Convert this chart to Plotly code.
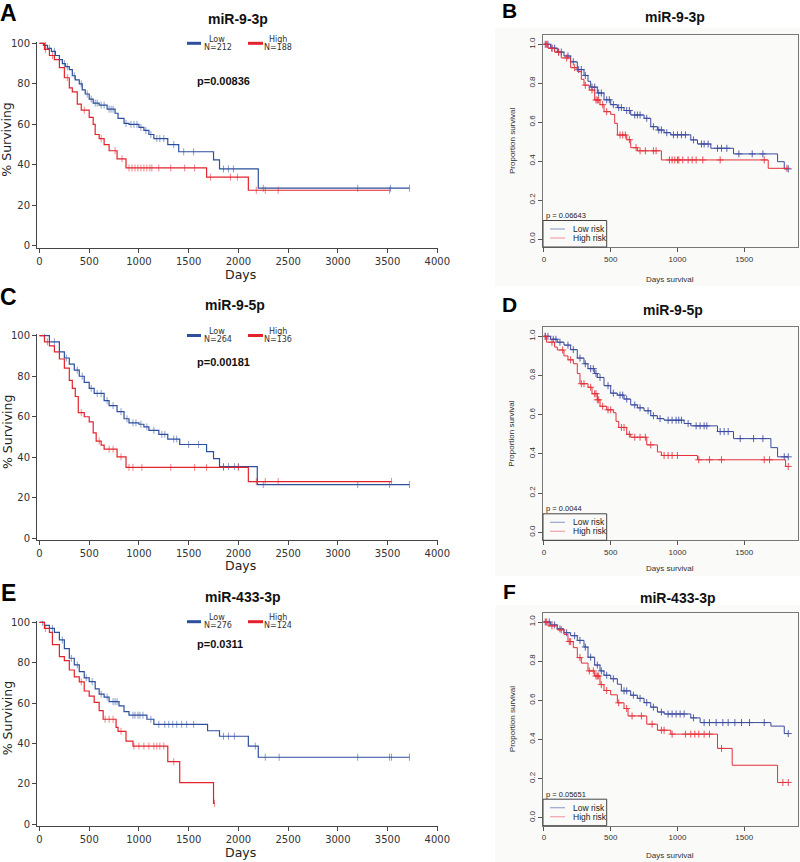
import plotly.graph_objects as go

W, H = 800, 862

# ---------------- panel A : miR-9-3p, % surviving vs days
A_LOW_T = [0, 40, 80, 120, 160, 200, 230, 260, 300, 330, 360, 400, 430, 460, 500, 540, 600, 680, 760, 790, 850, 900, 1000, 1050, 1100, 1150, 1290, 1400, 1750, 1810, 2200]
A_LOW_S = [100, 99, 97.5, 96, 94, 92, 90, 88.5, 87, 84, 82, 80, 77, 75, 72.5, 70.5, 69.5, 67.5, 65.5, 63, 60.5, 60, 58.5, 57, 55, 53, 50, 46.5, 42.5, 38, 28.5]
A_LOW_END = 3720
A_LOW_CENS = [60, 100, 150, 250, 280, 350, 420, 480, 520, 560, 580, 620, 650, 700, 720, 740, 870, 920, 950, 980, 1020, 1070, 1120, 1180, 1210, 1250, 1350, 1450, 1550, 1850, 1900, 1950, 2250, 3200, 3530, 3720]
A_HIGH_T = [0, 50, 100, 150, 200, 250, 300, 330, 380, 420, 500, 540, 560, 600, 650, 700, 780, 870, 1680, 2100]
A_HIGH_S = [100, 97, 94, 92, 88, 83, 78, 76, 70, 67, 63.5, 60, 55, 53, 50, 47, 43, 38.5, 34, 27.5]
A_HIGH_END = 3520
A_HIGH_CENS = [60, 130, 280, 450, 620, 760, 830, 900, 930, 960, 990, 1020, 1050, 1080, 1110, 1130, 1200, 1320, 1460, 1560, 1720, 1920, 1990, 2180, 2270, 2400, 3520]

# ---------------- panel C : miR-9-5p
C_LOW_T = [0, 100, 200, 250, 300, 350, 400, 450, 500, 550, 650, 700, 780, 850, 900, 1000, 1050, 1100, 1200, 1290, 1410, 1680, 1750, 1810, 2190]
C_LOW_S = [100, 97, 92, 89, 86, 83, 80, 77, 74, 71.5, 68, 65.5, 62.5, 59, 57, 56.3, 55, 53.3, 51.3, 49, 46.3, 42.8, 39.3, 35.4, 26.5]
C_LOW_END = 3720
C_LOW_CENS = [50, 150, 270, 380, 430, 520, 580, 620, 680, 740, 820, 880, 940, 970, 1020, 1080, 1150, 1230, 1260, 1350, 1380, 1500, 1600, 1850, 1900, 1960, 2000, 2250, 3200, 3520, 3720]
C_HIGH_T = [0, 50, 100, 150, 200, 250, 300, 330, 360, 390, 450, 500, 540, 570, 620, 650, 780, 870, 2100]
C_HIGH_S = [100, 97, 95, 92, 88.5, 84, 78, 74, 70, 62, 60, 57.5, 52, 48, 46, 44, 40.2, 35, 28]
C_HIGH_END = 3540
C_HIGH_CENS = [80, 420, 600, 700, 740, 820, 900, 940, 1030, 1320, 1560, 1680, 1850, 2000, 2180, 2270, 2400, 3540]

# ---------------- panel E : miR-433-3p
E_LOW_T = [0, 50, 100, 150, 200, 250, 300, 350, 400, 450, 500, 560, 600, 650, 700, 800, 850, 900, 1080, 1150, 1690, 1810, 2100, 2200]
E_LOW_S = [100, 98.5, 97, 95, 91.3, 87, 82.2, 78.9, 75.6, 72.5, 70.6, 67, 64.4, 63, 60.7, 58.6, 55.8, 54, 52, 49.5, 46.3, 43.6, 38.7, 33.2]
E_LOW_END = 3720
E_LOW_CENS = [30, 130, 230, 320, 380, 470, 530, 620, 680, 740, 760, 780, 940, 960, 990, 1010, 1040, 1120, 1200, 1260, 1300, 1340, 1380, 1430, 1480, 1550, 1850, 1900, 1960, 2170, 2270, 2410, 3200, 3520, 3540, 3720]
E_HIGH_T = [0, 50, 100, 130, 200, 250, 300, 350, 400, 450, 500, 550, 600, 640, 770, 790, 870, 940, 1290, 1410, 1750]
E_HIGH_S = [100, 97, 95, 89, 83, 81, 76.4, 73, 70.5, 66, 63.5, 60.4, 56.3, 52, 48, 46, 41.2, 38.7, 31, 20.6, 10.4]
E_HIGH_END = 1760
E_HIGH_CENS = [60, 420, 660, 700, 740, 820, 950, 1000, 1050, 1100, 1150, 1180, 1210, 1250, 1350, 1760]

# ---------------- panel B : miR-9-3p, proportion survival vs days survival
B_LOW_T = [0, 50, 100, 150, 200, 250, 300, 330, 350, 400, 450, 500, 550, 600, 650, 750, 800, 850, 900, 950, 1100, 1150, 1250, 1420, 1750, 1800]
B_LOW_S = [1.0, 0.98, 0.96, 0.94, 0.91, 0.87, 0.84, 0.81, 0.78, 0.75, 0.715, 0.69, 0.675, 0.66, 0.637, 0.62, 0.577, 0.56, 0.546, 0.535, 0.509, 0.488, 0.466, 0.437, 0.397, 0.36]
B_LOW_END = 1830
B_LOW_CENS = [10, 30, 60, 80, 110, 130, 180, 220, 260, 280, 310, 360, 380, 410, 430, 470, 490, 520, 560, 580, 620, 640, 680, 700, 720, 770, 820, 860, 880, 920, 970, 1000, 1030, 1060, 1120, 1180, 1200, 1230, 1300, 1330, 1370, 1460, 1560, 1640, 1830]
B_HIGH_T = [0, 30, 80, 130, 200, 250, 280, 300, 340, 380, 420, 450, 500, 530, 550, 620, 650, 700, 880, 1680]
B_HIGH_S = [1.0, 0.98, 0.96, 0.93, 0.88, 0.86, 0.82, 0.79, 0.765, 0.714, 0.69, 0.654, 0.64, 0.594, 0.534, 0.51, 0.469, 0.453, 0.406, 0.363]
B_HIGH_END = 1830
B_HIGH_CENS = [20, 60, 110, 170, 230, 310, 360, 390, 400, 410, 440, 470, 570, 590, 610, 640, 690, 720, 760, 820, 840, 940, 960, 980, 1000, 1010, 1040, 1080, 1110, 1140, 1190, 1320, 1650, 1820]

# ---------------- panel D : miR-9-5p
D_LOW_T = [0, 50, 100, 150, 200, 250, 300, 330, 380, 400, 450, 500, 550, 600, 650, 700, 750, 800, 850, 900, 1050, 1100, 1300, 1420, 1700, 1750]
D_LOW_S = [1.0, 0.985, 0.97, 0.955, 0.932, 0.889, 0.86, 0.835, 0.81, 0.79, 0.748, 0.71, 0.70, 0.68, 0.65, 0.635, 0.62, 0.595, 0.58, 0.572, 0.555, 0.543, 0.514, 0.478, 0.432, 0.385]
D_LOW_END = 1830
D_LOW_CENS = [10, 30, 70, 90, 120, 180, 220, 270, 310, 350, 370, 390, 420, 480, 520, 570, 590, 620, 680, 720, 780, 820, 870, 930, 960, 990, 1010, 1030, 1080, 1140, 1170, 1200, 1220, 1320, 1350, 1380, 1470, 1570, 1640, 1800, 1830]
D_HIGH_T = [0, 20, 80, 100, 150, 180, 220, 250, 270, 330, 360, 400, 420, 470, 520, 540, 560, 620, 650, 770, 850, 880, 1150, 1810]
D_HIGH_S = [1.0, 0.97, 0.945, 0.93, 0.90, 0.88, 0.86, 0.81, 0.758, 0.74, 0.707, 0.676, 0.643, 0.625, 0.61, 0.566, 0.535, 0.50, 0.485, 0.446, 0.41, 0.392, 0.37, 0.336]
D_HIGH_END = 1830
D_HIGH_CENS = [10, 60, 140, 200, 280, 300, 350, 380, 390, 400, 410, 440, 480, 500, 580, 600, 640, 680, 720, 760, 800, 900, 930, 960, 1000, 1160, 1240, 1330, 1650, 1690, 1830]

# ---------------- panel F : miR-433-3p
F_LOW_T = [0, 50, 100, 150, 200, 250, 300, 330, 380, 420, 450, 500, 550, 580, 650, 700, 750, 800, 850, 900, 1100, 1170, 1700, 1800]
F_LOW_S = [1.0, 0.985, 0.965, 0.945, 0.93, 0.906, 0.872, 0.82, 0.78, 0.75, 0.728, 0.71, 0.682, 0.648, 0.626, 0.61, 0.588, 0.565, 0.54, 0.53, 0.51, 0.486, 0.468, 0.43]
F_LOW_END = 1830
F_LOW_CENS = [10, 40, 80, 120, 170, 230, 270, 310, 350, 400, 430, 470, 520, 600, 620, 670, 720, 770, 820, 880, 930, 960, 990, 1020, 1050, 1120, 1200, 1240, 1290, 1340, 1380, 1430, 1480, 1540, 1650, 1830]
F_HIGH_T = [0, 30, 100, 150, 180, 220, 250, 280, 330, 380, 420, 450, 500, 550, 600, 630, 770, 850, 950, 1300, 1410, 1750]
F_HIGH_S = [1.0, 0.98, 0.96, 0.937, 0.90, 0.869, 0.818, 0.79, 0.75, 0.724, 0.68, 0.65, 0.628, 0.587, 0.558, 0.52, 0.478, 0.447, 0.427, 0.354, 0.268, 0.18]
F_HIGH_END = 1830
F_HIGH_CENS = [20, 60, 130, 190, 200, 270, 340, 370, 390, 400, 410, 430, 470, 560, 620, 660, 730, 810, 880, 900, 960, 1060, 1100, 1130, 1160, 1200, 1240, 1330, 1790, 1830]

LEFT_TITLES = ["miR-9-3p", "miR-9-5p", "miR-433-3p"]
LEFT_LETTERS = ["A", "C", "E"]
LEFT_N_LOW = ["N=212", "N=264", "N=276"]
LEFT_N_HIGH = ["N=188", "N=136", "N=124"]
LEFT_P = ["p=0.00836", "p=0.00181", "p=0.0311"]
RIGHT_TITLES = ["miR-9-3p", "miR-9-5p", "miR-433-3p"]
RIGHT_LETTERS = ["B", "D", "F"]
RIGHT_P = ["p = 0.06643", "p = 0.0044", "p = 0.05651"]

LEFT_BLUE, LEFT_RED = "#2D4F9E", "#E2232B"
RIGHT_BLUE, RIGHT_RED = "#3B4AA0", "#E4303A"
SANS = "Liberation Sans, Arial, sans-serif"
DEJAVU = "DejaVu Sans, Verdana, sans-serif"


def fx(p):
    return p / W


def fy(p):
    return 1 - p / H


def steps(t, s, end):
    return list(t) + [end], list(s) + [s[-1]]


def surv_at(t, s, c):
    v = s[0]
    for ti, si in zip(t, s):
        if ti <= c:
            v = si
    return v


def add_curve(fig, t, s, end, cens, color, ax, width, symbol, msize, mopacity):
    x, y = steps(t, s, end)
    fig.add_trace(go.Scatter(x=x, y=y, mode="lines", line=dict(color=color, width=width, shape="hv"),
                             xaxis="x" + ax, yaxis="y" + ax, showlegend=False, hoverinfo="skip"))
    fig.add_trace(go.Scatter(x=cens, y=[surv_at(t, s, c) for c in cens], mode="markers",
                             marker=dict(symbol=symbol, size=msize, color=color, opacity=mopacity,
                                         line=dict(color=color, width=1)),
                             xaxis="x" + ax, yaxis="y" + ax, showlegend=False, hoverinfo="skip"))


def ann(text, x, y, size, family, color="#222", xanchor="center", angle=0):
    return dict(text=text, x=fx(x), y=fy(y), xref="paper", yref="paper", showarrow=False,
                font=dict(size=size, family=family, color=color), xanchor=xanchor,
                yanchor="middle", textangle=angle, borderpad=0)


fig = go.Figure()

left_data = [
    (A_LOW_T, A_LOW_S, A_LOW_END, A_LOW_CENS, A_HIGH_T, A_HIGH_S, A_HIGH_END, A_HIGH_CENS),
    (C_LOW_T, C_LOW_S, C_LOW_END, C_LOW_CENS, C_HIGH_T, C_HIGH_S, C_HIGH_END, C_HIGH_CENS),
    (E_LOW_T, E_LOW_S, E_LOW_END, E_LOW_CENS, E_HIGH_T, E_HIGH_S, E_HIGH_END, E_HIGH_CENS),
]
right_data = [
    (B_LOW_T, B_LOW_S, B_LOW_END, B_LOW_CENS, B_HIGH_T, B_HIGH_S, B_HIGH_END, B_HIGH_CENS),
    (D_LOW_T, D_LOW_S, D_LOW_END, D_LOW_CENS, D_HIGH_T, D_HIGH_S, D_HIGH_END, D_HIGH_CENS),
    (F_LOW_T, F_LOW_S, F_LOW_END, F_LOW_CENS, F_HIGH_T, F_HIGH_S, F_HIGH_END, F_HIGH_CENS),
]

# pixel geometry of each row (layout only)
left_geo = [
    dict(top=41.7, bot=247.6, title=(238, 19), letter=13, p=(223, 81), leg=43.3, days=274),
    dict(top=334.1, bot=539.9, title=(235, 305), letter=297, p=(223, 361.7), leg=335.5, days=565.5),
    dict(top=620.7, bot=825.9, title=(242, 597), letter=593, p=(220, 644), leg=621.7, days=852),
]
right_geo = [
    dict(top=35, bot=247, y0=239, title=(675, 17), letter=11, days=279, bg=(28, 286)),
    dict(top=327, bot=540.3, y0=532.3, title=(673, 310), letter=305, days=568, bg=(320, 576)),
    dict(top=612.7, bot=825.7, y0=817.7, title=(677, 598), letter=591, days=855, bg=(605, 862)),
]

layout = {}
annotations = []
shapes = []

for i in range(3):
    g = left_geo[i]
    ax = str(2 * i + 1)
    d = left_data[i]
    add_curve(fig, d[0], d[1], d[2], d[3], LEFT_BLUE, ax, 1.2, "line-ns", 5, 0.55)
    add_curve(fig, d[4], d[5], d[6], d[7], LEFT_RED, ax, 1.2, "line-ns", 5, 0.55)
    key = "" if ax == "1" else ax
    layout["xaxis" + key] = dict(domain=[fx(37), fx(437.5)], range=[-25, 4002], anchor="y" + key,
                                 tickvals=list(range(0, 4001, 500)), showline=True, linecolor="#444",
                                 linewidth=1, ticks="outside", ticklen=4, tickcolor="#444",
                                 tickfont=dict(family=DEJAVU, size=10, color="#333"),
                                 showgrid=False, zeroline=False, automargin=False)
    layout["yaxis" + key] = dict(domain=[fy(g["bot"]), fy(g["top"])], range=[-0.8, 100.8], anchor="x" + key,
                                 tickvals=[0, 20, 40, 60, 80, 100], showline=True, linecolor="#444",
                                 linewidth=1, ticks="outside", ticklen=4, tickcolor="#444",
                                 tickfont=dict(family=DEJAVU, size=10, color="#333"),
                                 showgrid=False, zeroline=False, automargin=False)
    annotations.append(ann("<b>" + LEFT_LETTERS[i] + "</b>", 8, g["letter"], 23, SANS, "#000"))
    annotations.append(ann("<b>" + LEFT_TITLES[i] + "</b>", g["title"][0], g["title"][1], 14, SANS, "#111"))
    annotations.append(ann("<b>" + LEFT_P[i] + "</b>", g["p"][0], g["p"][1], 11, SANS, "#111"))
    annotations.append(ann("Days", 240, g["days"], 12.5, DEJAVU, "#222"))
    annotations.append(ann("% Surviving", 7, (g["top"] + g["bot"]) / 2 - 5, 12.5, DEJAVU, "#222", angle=-90))
    # legend: thick segments + two-line labels
    shapes.append(dict(type="line", xref="paper", yref="paper", x0=fx(187), x1=fx(201), y0=fy(g["leg"]),
                       y1=fy(g["leg"]), line=dict(color=LEFT_BLUE, width=3)))
    shapes.append(dict(type="line", xref="paper", yref="paper", x0=fx(248), x1=fx(263), y0=fy(g["leg"]),
                       y1=fy(g["leg"]), line=dict(color=LEFT_RED, width=3)))
    annotations.append(ann("Low", 217, g["leg"] - 4, 8, DEJAVU, "#333"))
    annotations.append(ann(LEFT_N_LOW[i], 218, g["leg"] + 4, 8, DEJAVU, "#333"))
    annotations.append(ann("High", 278, g["leg"] - 4, 8, DEJAVU, "#333"))
    annotations.append(ann(LEFT_N_HIGH[i], 278, g["leg"] + 4, 8, DEJAVU, "#333"))

for i in range(3):
    g = right_geo[i]
    ax = str(2 * i + 2)
    d = right_data[i]
    shapes.append(dict(type="rect", xref="paper", yref="paper", x0=fx(495), x1=fx(800), y0=fy(g["bg"][1]),
                       y1=fy(g["bg"][0]), fillcolor="#FAFAF8", line=dict(width=0), layer="below"))
    add_curve(fig, d[0], d[1], d[2], d[3], RIGHT_BLUE, ax, 1, "cross-thin", 5, 0.85)
    add_curve(fig, d[4], d[5], d[6], d[7], RIGHT_RED, ax, 1, "cross-thin", 5, 0.85)
    unit = g["y0"] - g["top"] - 9.3
    y_hi = 1 + 9.3 / unit
    y_lo = -(g["bot"] - g["y0"]) / unit
    layout["xaxis" + ax] = dict(domain=[fx(543), fx(797.6)], range=[-7, 1900], anchor="y" + ax,
                                tickvals=[0, 500, 1000, 1500], showline=True, mirror=True, linecolor="#777",
                                linewidth=1, ticks="outside", ticklen=4, tickcolor="#555",
                                tickfont=dict(family=SANS, size=8, color="#333"),
                                showgrid=False, zeroline=False, automargin=False)
    layout["yaxis" + ax] = dict(domain=[fy(g["bot"]), fy(g["top"])], range=[y_lo, y_hi], anchor="x" + ax,
                                tickvals=[0, 0.2, 0.4, 0.6, 0.8, 1.0],
                                ticktext=["0.0", "0.2", "0.4", "0.6", "0.8", "1.0"], tickangle=-90,
                                showline=True, mirror=True, linecolor="#777", linewidth=1,
                                ticks="outside", ticklen=4, tickcolor="#555",
                                tickfont=dict(family=SANS, size=8, color="#333"),
                                showgrid=False, zeroline=False, automargin=False)
    annotations.append(ann("<b>" + RIGHT_LETTERS[i] + "</b>", 510, g["letter"], 21, SANS, "#000"))
    annotations.append(ann("<b>" + RIGHT_TITLES[i] + "</b>", g["title"][0], g["title"][1], 14, SANS, "#111"))
    annotations.append(ann("Days survival", 670, g["days"], 8, SANS, "#333"))
    annotations.append(ann("Proportion survival", 512, (g["top"] + g["bot"]) / 2, 8, SANS, "#333", angle=-90))
    y0 = g["y0"]
    annotations.append(ann(RIGHT_P[i], 545, y0 - 23.5, 7.5, SANS, "#222", xanchor="left"))
    shapes.append(dict(type="rect", xref="paper", yref="paper", x0=fx(543), x1=fx(606.7), y0=fy(g["bot"]),
                       y1=fy(y0 - 18.5), line=dict(color="#444", width=1), fillcolor="rgba(0,0,0,0)"))
    shapes.append(dict(type="line", xref="paper", yref="paper", x0=fx(550), x1=fx(565), y0=fy(y0 - 10),
                       y1=fy(y0 - 10), line=dict(color="#9AA4D0", width=1.2)))
    shapes.append(dict(type="line", xref="paper", yref="paper", x0=fx(550), x1=fx(565), y0=fy(y0 - 1),
                       y1=fy(y0 - 1), line=dict(color="#F2A2AC", width=1.2)))
    annotations.append(ann("Low risk", 572, y0 - 10, 8.5, SANS, "#222", xanchor="left"))
    annotations.append(ann("High risk", 572, y0 - 1, 8.5, SANS, "#222", xanchor="left"))

fig.update_layout(
    width=W, height=H,
    margin=dict(l=0, r=0, t=0, b=0, pad=0),
    paper_bgcolor="white", plot_bgcolor="rgba(0,0,0,0)",
    showlegend=False,
    annotations=annotations, shapes=shapes,
    **layout
)

# the page body has a default 8px margin; drop it so the figure sits at the window origin
fig.write_html("out.html", config={"displayModeBar": False},
               post_script="document.body.style.margin='0';document.body.style.padding='0';")
